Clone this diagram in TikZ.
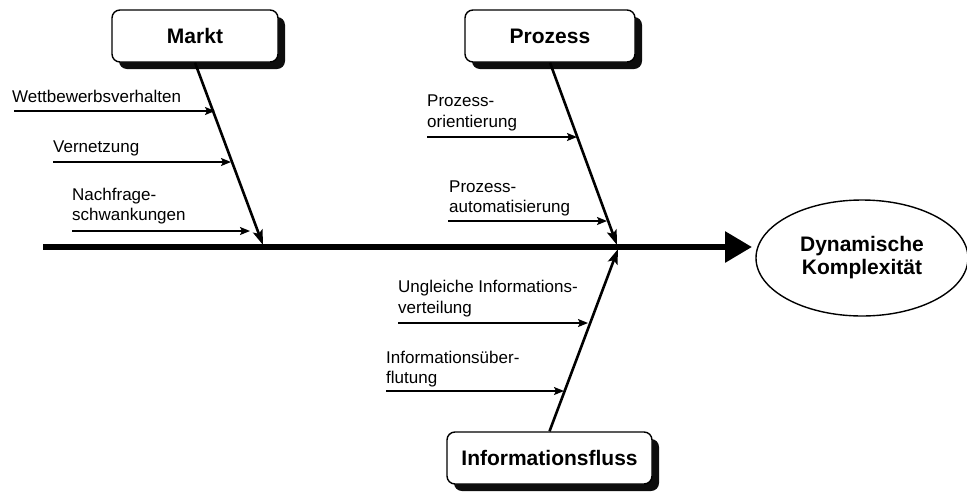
\documentclass[tikz,border=0pt]{standalone}
\usepackage{fontspec}
\setmainfont{Liberation Sans}
\usetikzlibrary{arrows.meta,shapes.geometric,shadows}
\begin{document}
\begin{tikzpicture}[x=1pt,y=-1pt,
  catbox/.style={draw=black,line width=1.4pt,rounded corners=8pt,fill=white,
    minimum height=52pt,inner sep=0pt,font=\fontsize{21}{25}\selectfont\bfseries,
    drop shadow={shadow xshift=7pt,shadow yshift=-7pt,opacity=0.95,fill=black}},
  lbl/.style={anchor=base west,inner sep=0pt,font=\fontsize{17}{21}\selectfont},
  sub/.style={line width=1.6pt,-{Stealth[length=10pt,width=8pt,inset=2pt]}},
  bone/.style={line width=2.6pt,-{Stealth[length=15pt,width=10pt,inset=3pt]}},
  spine/.style={line width=6pt,-{Triangle[length=27pt,width=30pt]}}]
\useasboundingbox (0,0) rectangle (967,491);
% category boxes
\node[catbox,minimum width=166pt] (markt) at (195,36) {Markt};
\node[catbox,minimum width=170pt] (proz) at (550,36) {Prozess};
\node[catbox,minimum width=205pt] (info) at (549.5,458) {Informationsfluss};
% effect
\node[draw=black,line width=1.4pt,ellipse,minimum width=212pt,minimum height=116pt,
  inner sep=0pt,align=center,font=\fontsize{21}{23}\selectfont\bfseries]
  (dk) at (862,258) {Dynamische\\Komplexit\"at};
% spine
\coordinate (spL) at (43,247);
\coordinate (spR) at (752,247);
\draw[spine] (spL) -- (spR);
% bone end points
\coordinate (mE) at (263,245);
\coordinate (pE) at (617,245);
\coordinate (iE) at (618,249);
\draw[bone] (markt.south) -- (mE);
\draw[bone] (proz.south) -- (pE);
\draw[bone] (info.north) -- (iE);
% Markt causes
\node[lbl] (t1) at (12,102) {Wettbewerbsverhalten};
\coordinate (a1s) at (14,111); \coordinate (a1e) at (215,111);
\draw[sub] (a1s) -- (a1e);
\node[lbl] (t2) at (53,152) {Vernetzung};
\coordinate (a2s) at (53,162); \coordinate (a2e) at (231,162);
\draw[sub] (a2s) -- (a2e);
\node[lbl] (t3a) at (72,200) {Nachfrage-};
\node[lbl] (t3b) at (72,220) {schwankungen};
\coordinate (a3s) at (72,231); \coordinate (a3e) at (250,231);
\draw[sub] (a3s) -- (a3e);
% Prozess causes
\node[lbl] (t4a) at (427,106) {Prozess-};
\node[lbl] (t4b) at (427,127) {orientierung};
\coordinate (a4s) at (427,137); \coordinate (a4e) at (577,137);
\draw[sub] (a4s) -- (a4e);
\node[lbl] (t5a) at (449,192) {Prozess-};
\node[lbl] (t5b) at (449,212) {automatisierung};
\coordinate (a5s) at (448,221); \coordinate (a5e) at (607,221);
\draw[sub] (a5s) -- (a5e);
% Informationsfluss causes
\node[lbl] (t6a) at (398,292) {Ungleiche Informations-};
\node[lbl] (t6b) at (398,313) {verteilung};
\coordinate (a6s) at (398,323); \coordinate (a6e) at (588,323);
\draw[sub] (a6s) -- (a6e);
\node[lbl] (t7a) at (386,363) {Informations\"uber-};
\node[lbl] (t7b) at (386,383) {flutung};
\coordinate (a7s) at (386,391); \coordinate (a7e) at (564,391);
\draw[sub] (a7s) -- (a7e);
\end{tikzpicture}
\end{document}
